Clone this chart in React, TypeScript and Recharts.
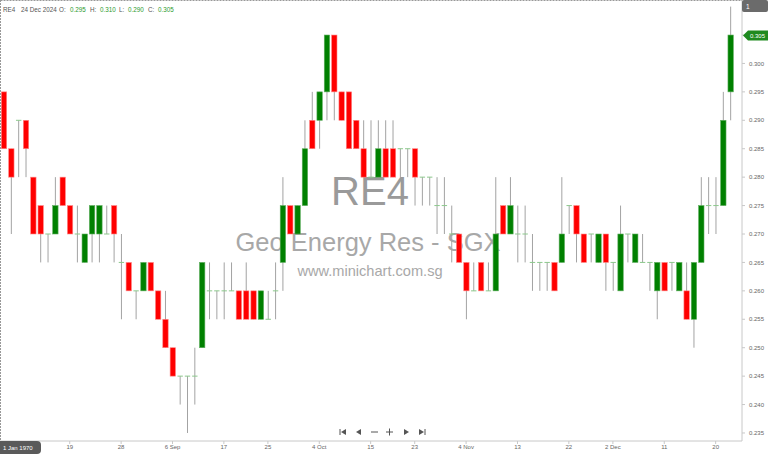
import * as React from "react";
import { ComposedChart, Bar, XAxis, YAxis } from "recharts";

// trading days, 5 Aug 2024 .. 24 Dec 2024 (SGX)
const days = [
  "5 Aug", "6 Aug", "7 Aug", "8 Aug", "12 Aug", "13 Aug", "14 Aug", "15 Aug", "16 Aug", "19 Aug",
  "20 Aug", "21 Aug", "22 Aug", "23 Aug", "26 Aug", "27 Aug", "28 Aug", "29 Aug", "30 Aug", "2 Sep",
  "3 Sep", "4 Sep", "5 Sep", "6 Sep", "9 Sep", "10 Sep", "11 Sep", "12 Sep", "13 Sep", "16 Sep",
  "17 Sep", "18 Sep", "19 Sep", "20 Sep", "23 Sep", "24 Sep", "25 Sep", "26 Sep", "27 Sep", "30 Sep",
  "1 Oct", "2 Oct", "3 Oct", "4 Oct", "7 Oct", "8 Oct", "9 Oct", "10 Oct", "11 Oct", "14 Oct",
  "15 Oct", "16 Oct", "17 Oct", "18 Oct", "21 Oct", "22 Oct", "23 Oct", "24 Oct", "25 Oct", "28 Oct",
  "29 Oct", "30 Oct", "1 Nov", "4 Nov", "5 Nov", "6 Nov", "7 Nov", "8 Nov", "11 Nov", "12 Nov",
  "13 Nov", "14 Nov", "15 Nov", "18 Nov", "19 Nov", "20 Nov", "21 Nov", "22 Nov", "25 Nov", "26 Nov",
  "27 Nov", "28 Nov", "29 Nov", "2 Dec", "3 Dec", "4 Dec", "5 Dec", "6 Dec", "9 Dec", "10 Dec",
  "11 Dec", "12 Dec", "13 Dec", "16 Dec", "17 Dec", "18 Dec", "19 Dec", "20 Dec", "23 Dec", "24 Dec",
];

const openP = [
  0.295, 0.285, 0.29, 0.29, 0.28, 0.275, 0.27, 0.27, 0.28, 0.275,
  0.27, 0.265, 0.27, 0.27, 0.27, 0.275, 0.265, 0.265, 0.26, 0.26,
  0.265, 0.26, 0.255, 0.25, 0.245, 0.245, 0.245, 0.25, 0.26, 0.26,
  0.26, 0.26, 0.26, 0.26, 0.26, 0.255, 0.255, 0.26, 0.265, 0.275,
  0.27, 0.275, 0.29, 0.29, 0.295, 0.305, 0.295, 0.295, 0.29, 0.285,
  0.28, 0.28, 0.285, 0.285, 0.285, 0.285, 0.285, 0.28, 0.28, 0.275,
  0.275, 0.27, 0.27, 0.265, 0.26, 0.265, 0.26, 0.26, 0.275, 0.27,
  0.27, 0.27, 0.265, 0.265, 0.265, 0.265, 0.265, 0.275, 0.275, 0.27,
  0.27, 0.265, 0.27, 0.265, 0.26, 0.27, 0.265, 0.265, 0.265, 0.26,
  0.265, 0.265, 0.26, 0.26, 0.255, 0.265, 0.275, 0.275, 0.275, 0.295,
];
const highP = [
  0.295, 0.285, 0.29, 0.29, 0.28, 0.275, 0.27, 0.28, 0.28, 0.275,
  0.275, 0.27, 0.275, 0.275, 0.275, 0.275, 0.27, 0.265, 0.26, 0.265,
  0.265, 0.26, 0.26, 0.25, 0.245, 0.245, 0.25, 0.265, 0.265, 0.26,
  0.265, 0.265, 0.26, 0.265, 0.26, 0.26, 0.26, 0.265, 0.28, 0.275,
  0.275, 0.29, 0.295, 0.295, 0.305, 0.305, 0.295, 0.295, 0.29, 0.29,
  0.29, 0.29, 0.29, 0.29, 0.285, 0.285, 0.285, 0.28, 0.28, 0.28,
  0.28, 0.275, 0.27, 0.265, 0.265, 0.265, 0.265, 0.28, 0.275, 0.28,
  0.275, 0.275, 0.27, 0.265, 0.265, 0.265, 0.28, 0.275, 0.275, 0.27,
  0.27, 0.27, 0.27, 0.265, 0.275, 0.27, 0.27, 0.27, 0.265, 0.265,
  0.265, 0.265, 0.265, 0.265, 0.265, 0.28, 0.28, 0.28, 0.295, 0.31,
];
const lowP = [
  0.285, 0.27, 0.28, 0.28, 0.27, 0.265, 0.265, 0.27, 0.275, 0.27,
  0.265, 0.265, 0.265, 0.265, 0.27, 0.265, 0.255, 0.26, 0.255, 0.26,
  0.26, 0.255, 0.25, 0.245, 0.24, 0.235, 0.24, 0.25, 0.255, 0.255,
  0.255, 0.26, 0.255, 0.255, 0.255, 0.255, 0.255, 0.255, 0.26, 0.27,
  0.27, 0.275, 0.285, 0.285, 0.29, 0.29, 0.29, 0.285, 0.285, 0.28,
  0.28, 0.28, 0.28, 0.28, 0.28, 0.28, 0.275, 0.275, 0.275, 0.27,
  0.27, 0.265, 0.265, 0.255, 0.26, 0.26, 0.26, 0.26, 0.27, 0.27,
  0.265, 0.265, 0.26, 0.26, 0.26, 0.26, 0.265, 0.27, 0.265, 0.265,
  0.265, 0.265, 0.26, 0.26, 0.26, 0.265, 0.265, 0.265, 0.26, 0.255,
  0.26, 0.26, 0.26, 0.255, 0.25, 0.265, 0.27, 0.27, 0.275, 0.29,
];
const closeP = [
  0.285, 0.28, 0.29, 0.285, 0.27, 0.27, 0.27, 0.275, 0.275, 0.27,
  0.27, 0.27, 0.275, 0.275, 0.27, 0.27, 0.265, 0.26, 0.26, 0.265,
  0.26, 0.255, 0.25, 0.245, 0.245, 0.245, 0.245, 0.265, 0.26, 0.26,
  0.26, 0.26, 0.255, 0.255, 0.255, 0.26, 0.255, 0.26, 0.275, 0.27,
  0.275, 0.285, 0.285, 0.295, 0.305, 0.295, 0.29, 0.285, 0.285, 0.28,
  0.28, 0.285, 0.28, 0.28, 0.285, 0.285, 0.28, 0.28, 0.28, 0.275,
  0.275, 0.27, 0.265, 0.26, 0.26, 0.26, 0.26, 0.27, 0.27, 0.275,
  0.27, 0.27, 0.265, 0.265, 0.265, 0.26, 0.27, 0.275, 0.27, 0.265,
  0.27, 0.27, 0.265, 0.265, 0.27, 0.27, 0.27, 0.265, 0.265, 0.265,
  0.26, 0.265, 0.265, 0.255, 0.265, 0.275, 0.275, 0.275, 0.29, 0.305,
];

const tickDays = ["19 Aug", "28 Aug", "6 Sep", "17 Sep", "25 Sep", "4 Oct", "15 Oct", "23 Oct", "4 Nov", "13 Nov", "22 Nov", "2 Dec", "11 Dec", "20 Dec"];
const tickText = ["19", "28", "6 Sep", "17", "25", "4 Oct", "15", "23", "4 Nov", "13", "22", "2 Dec", "11", "20"];
const priceTicks = [0.235, 0.24, 0.245, 0.25, 0.255, 0.26, 0.265, 0.27, 0.275, 0.28, 0.285, 0.29, 0.295, 0.3, 0.305];

const data = days.map((day, i) => ({
  day,
  open: openP[i],
  high: highP[i],
  low: lowP[i],
  close: closeP[i],
  range: [lowP[i], highP[i]],
}));

const Candle = (props: any) => {
  const { x, y, width, height, payload } = props;
  if (!payload) return null;
  const { open, close, high, low } = payload;
  const top = Math.min(y, y + height);
  const h = Math.abs(height);
  const span = high - low;
  const toY = (v: number) => (span === 0 ? top : top + ((high - v) / span) * h);
  const cx = x + width / 2;
  const bw = 5.4;
  const yo = toY(open);
  const yc = toY(close);
  return (
    <g>
      <line x1={cx} x2={cx} y1={top} y2={top + h} stroke="#a3a3a3" strokeWidth={1} />
      {open === close ? (
        <line x1={cx - bw / 2} x2={cx + bw / 2} y1={yo} y2={yo} stroke="#8cc88c" strokeWidth={1} />
      ) : (
        <rect
          x={cx - bw / 2}
          y={Math.min(yo, yc)}
          width={bw}
          height={Math.abs(yc - yo)}
          fill={close > open ? "#008000" : "#ff0000"}
          stroke={close > open ? "#5fae5f" : "#ff8a8a"}
          strokeWidth={0.6}
        />
      )}
    </g>
  );
};

const font = "'Liberation Sans', Arial, sans-serif";

export default function App() {
  return (
    <div style={{ position: "absolute", left: 0, top: 0, width: 768, height: 454, background: "#fff", fontFamily: font }}>
      {/* watermark */}
      <svg width={768} height={454} style={{ position: "absolute", left: 0, top: 0 }}>
        <text x={370} y={205} textAnchor="middle" fontSize={40} fill="#9a9a9a" fontFamily={font}>RE4</text>
        <text x={368} y={251} textAnchor="middle" fontSize={25.5} fill="#a8a8a8" fontFamily={font}>Geo Energy Res - SGX</text>
        <text x={370} y={276} textAnchor="middle" fontSize={14.6} fill="#a8a8a8" fontFamily={font}>www.minichart.com.sg</text>
      </svg>
      <div style={{ position: "absolute", left: 0, top: 0 }}>
        <ComposedChart width={768} height={454} data={data} margin={{ top: 0, right: 0, left: 0, bottom: 0 }}>
          <XAxis
            dataKey="day"
            ticks={tickDays}
            interval={0}
            tickFormatter={(v: string) => tickText[tickDays.indexOf(v)] ?? ""}
            padding={{ left: 0, right: 8 }}
            height={13}
            tickSize={3}
            tickMargin={1}
            axisLine={{ stroke: "#c8c8c8" }}
            tickLine={{ stroke: "#c8c8c8" }}
            tick={{ fontSize: 6, fill: "#666", fontFamily: font }}
          />
          <YAxis
            orientation="right"
            domain={[0.23359, 0.31116]}
            allowDataOverflow
            ticks={priceTicks}
            tickFormatter={(v: number) => v.toFixed(3)}
            width={26}
            tickSize={3}
            tickMargin={4}
            axisLine={{ stroke: "#c8c8c8" }}
            tickLine={{ stroke: "#c8c8c8" }}
            tick={{ fontSize: 6, fill: "#666", fontFamily: font }}
          />
          <Bar dataKey="range" barSize={6} shape={<Candle />} isAnimationActive={false} />
        </ComposedChart>
      </div>
      {/* chrome */}
      <svg width={768} height={454} style={{ position: "absolute", left: 0, top: 0, pointerEvents: "none" }}>
        <line x1={0.5} x2={742} y1={0.5} y2={0.5} stroke="#999" strokeDasharray="2 1" />
        <line x1={0.5} x2={0.5} y1={0} y2={441} stroke="#999" strokeDasharray="2 1" />
        <g fontSize={6.3} fontFamily={font} fill="#555">
          <text x={3} y={12}>RE4</text>
          <text x={21} y={12}>24 Dec 2024</text>
          <text x={59} y={12}>O:</text>
          <text x={70} y={12} fill="#2e9a2e">0.295</text>
          <text x={90} y={12}>H:</text>
          <text x={100} y={12} fill="#2e9a2e">0.310</text>
          <text x={119} y={12}>L:</text>
          <text x={128} y={12} fill="#2e9a2e">0.290</text>
          <text x={148} y={12}>C:</text>
          <text x={158} y={12} fill="#2e9a2e">0.305</text>
        </g>
        <rect x={742} y={0} width={26} height={12} rx={2} fill="#6b6b6b" />
        <text x={746} y={9} fontSize={6.5} fill="#fff" fontFamily={font}>1</text>
        <path d="M743,35.5 L748,30.5 L768,30.5 L768,40.5 L748,40.5 Z" fill="#1f8a1f" />
        <text x={750} y={38} fontSize={6} fill="#fff" fontFamily={font}>0.305</text>
        <path d="M0,441 L37,441 Q41,441 41,445 L41,450 Q41,454 37,454 L0,454 Z" fill="#5a5a5a" />
        <text x={3} y={450} fontSize={6} fill="#fff" fontFamily={font}>1 Jan 1970</text>
        <g fill="#555" stroke="#555">
          <line x1={340} x2={340} y1={429} y2={435} strokeWidth={1} />
          <path d="M346,429 L341,432 L346,435 Z" stroke="none" />
          <path d="M361,429 L356,432 L361,435 Z" stroke="none" />
          <line x1={371} x2={378} y1={432} y2={432} strokeWidth={1} />
          <line x1={386} x2={393} y1={432} y2={432} strokeWidth={1} />
          <line x1={389.5} x2={389.5} y1={428.5} y2={435.5} strokeWidth={1} />
          <path d="M404,429 L409,432 L404,435 Z" stroke="none" />
          <path d="M419,429 L424,432 L419,435 Z" stroke="none" />
          <line x1={425} x2={425} y1={429} y2={435} strokeWidth={1} />
        </g>
      </svg>
    </div>
  );
}
